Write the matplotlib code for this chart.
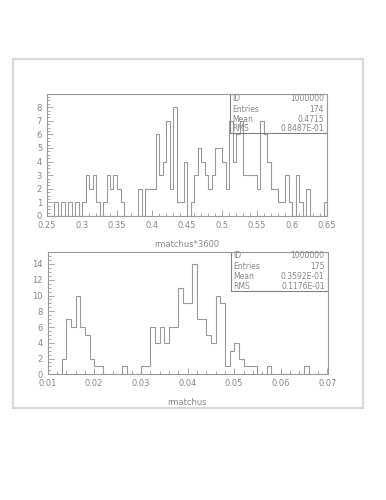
import numpy as np
import matplotlib
matplotlib.use('Agg')
import matplotlib.pyplot as plt
from matplotlib.patches import Rectangle
from matplotlib.ticker import AutoMinorLocator, FixedLocator

# top histogram: rmatchus*3600, 80 bins from 0.25 to 0.65
top_counts = [0, 0, 1, 0, 1, 0, 1, 0, 1, 0,
              1, 3, 2, 3, 1, 0, 1, 3, 2, 3,
              2, 1, 0, 0, 0, 0, 2, 0, 2, 2,
              2, 6, 3, 4, 7, 2, 8, 1, 1, 4,
              0, 1, 3, 5, 4, 3, 2, 3, 5, 5,
              4, 2, 7, 4, 6, 7, 3, 3, 3, 3,
              2, 7, 6, 4, 2, 2, 1, 1, 3, 1,
              0, 3, 1, 0, 2, 0, 0, 0, 0, 1]
top_range = (0.25, 0.65)
top_xticks = [0.25, 0.3, 0.35, 0.4, 0.45, 0.5, 0.55, 0.6, 0.65]
top_xlabels = ['0.25', '0.3', '0.35', '0.4', '0.45', '0.5', '0.55', '0.6', '0.65']
top_yticks = [0, 1, 2, 3, 4, 5, 6, 7, 8]
top_stats = [('ID', '1000000'), ('Entries', '174'), ('Mean', '0.4715'), ('RMS', '0.8487E-01')]
top_title = 'rmatchus*3600'

# bottom histogram: rmatchus, 60 bins from 0.01 to 0.07
bot_counts = [0, 0, 0, 2, 7, 6, 10, 6, 5, 2,
              1, 1, 0, 0, 0, 0, 1, 0, 0, 0,
              1, 1, 6, 4, 6, 4, 6, 6, 11, 9,
              9, 14, 7, 7, 5, 4, 10, 9, 1, 3,
              4, 2, 1, 1, 1, 0, 0, 1, 0, 0,
              0, 0, 0, 0, 0, 1, 0, 0, 0, 0]
bot_range = (0.01, 0.07)
bot_xticks = [0.01, 0.02, 0.03, 0.04, 0.05, 0.06, 0.07]
bot_xlabels = ['0.01', '0.02', '0.03', '0.04', '0.05', '0.06', '0.07']
bot_yticks = [0, 2, 4, 6, 8, 10, 12, 14]
bot_stats = [('ID', '1000000'), ('Entries', '175'), ('Mean', '0.3592E-01'), ('RMS', '0.1176E-01')]
bot_title = 'rmatchus'

W, H = 386, 500
LINE = '#9a9a9a'
TEXT = '#888888'

fig = plt.figure(figsize=(W / 100, H / 100), dpi=100)
fig.patch.set_facecolor('white')


def px_box(x0, y0, x1, y1):
    # pixel box (top-left origin) -> figure fraction rect
    return [x0 / W, 1 - y1 / H, (x1 - x0) / W, (y1 - y0) / H]


# outer page frame
fig.patches.append(Rectangle((13 / W, 1 - 408 / H), 350 / W, 349 / H,
                             transform=fig.transFigure, fill=False,
                             edgecolor='#d8d8d8', linewidth=1.6))


def draw_hist(rect, counts, rng, ymax, xticks, xlabels, yticks, stats, title, box_bottom, rows):
    ax = fig.add_axes(rect)
    edges = np.linspace(rng[0], rng[1], len(counts) + 1)
    ax.stairs(counts, edges, color=LINE, linewidth=0.8, baseline=0)
    ax.set_xlim(*rng)
    ax.set_ylim(0, ymax)
    for s in ax.spines.values():
        s.set_color(LINE)
        s.set_linewidth(0.8)
    ax.xaxis.set_major_locator(FixedLocator(xticks))
    ax.set_xticklabels(xlabels)
    ax.set_yticks(yticks)
    ax.set_yticklabels([str(v) for v in yticks])
    ax.xaxis.set_minor_locator(AutoMinorLocator(5))
    ax.yaxis.set_minor_locator(AutoMinorLocator(4))
    ax.tick_params(which='both', direction='in', color=LINE, labelcolor=TEXT,
                   labelsize=6, width=0.6)
    ax.tick_params(which='major', length=4)
    ax.tick_params(axis='x', which='major', pad=3.5)
    ax.tick_params(axis='y', which='major', pad=3.5)
    ax.tick_params(which='minor', length=2)
    ax.set_xlabel(title, fontsize=6, color=TEXT, labelpad=7)

    ax.add_patch(Rectangle((0.654, box_bottom), 0.346, 1 - box_bottom,
                           transform=ax.transAxes, fill=False,
                           edgecolor='#808080', linewidth=0.8))
    for (name, val), y in zip(stats, rows):
        ax.text(0.662, y, name, transform=ax.transAxes, fontsize=5.5,
                color=TEXT, va='center', ha='left')
        ax.text(0.99, y, val, transform=ax.transAxes, fontsize=5.5,
                color=TEXT, va='center', ha='right')
    return ax


draw_hist(px_box(47, 94, 327, 216), top_counts, top_range, 8.97,
          top_xticks, top_xlabels, top_yticks, top_stats, top_title,
          0.678, [0.965, 0.877, 0.795, 0.719])

draw_hist(px_box(47.5, 251.7, 327.5, 374.3), bot_counts, bot_range, 15.56,
          bot_xticks, bot_xlabels, bot_yticks, bot_stats, bot_title,
          0.679, [0.965, 0.883, 0.801, 0.720])

fig.savefig('out.png', dpi=100, facecolor='white')
